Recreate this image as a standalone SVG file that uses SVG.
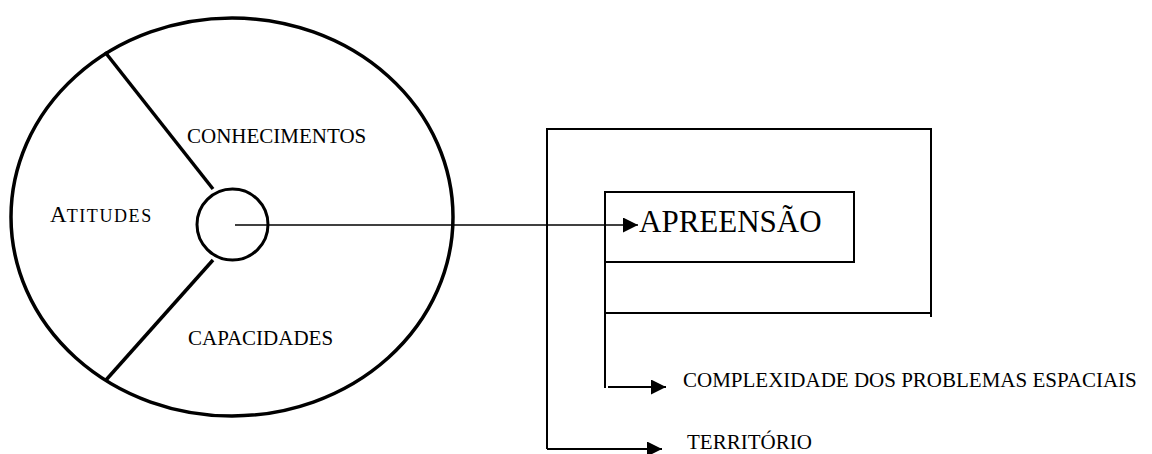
<svg xmlns="http://www.w3.org/2000/svg" width="1152" height="454" viewBox="0 0 1152 454">
  <style>
    .bg { fill: #ffffff; }
    .thick { fill: none; stroke: #000; stroke-width: 3.5; }
    .frame { fill: none; stroke: #000; stroke-width: 2; }
    .wire { fill: none; stroke: #000; stroke-width: 1.6; }
    .lbl { font-family: "Liberation Serif", "Times New Roman", serif; font-size: 21px; fill: #000; }
    .big { font-family: "Liberation Serif", "Times New Roman", serif; font-size: 31px; fill: #000; }
  </style>
  <defs>
    <marker id="arrow" markerUnits="userSpaceOnUse" markerWidth="15" markerHeight="15" refX="15" refY="7.5" orient="auto">
      <path d="M0,0 L15,7.5 L0,15 Z" fill="#000"/>
    </marker>
  </defs>

  <rect class="bg" x="0" y="0" width="1152" height="454"/>

  <!-- wheel of competences -->
  <g id="wheel">
    <ellipse class="thick" cx="232" cy="217" rx="221" ry="199"/>
    <line class="thick" x1="105" y1="52" x2="213" y2="189"/>
    <line class="thick" x1="213" y1="260" x2="106" y2="380"/>
  </g>

  <g id="conhecimentos">
    <text class="lbl" x="187" y="143">CONHECIMENTOS</text>
  </g>

  <g id="atitudes">
    <text class="lbl" x="50" y="222"><tspan font-size="23">A</tspan><tspan font-size="18" letter-spacing="1.6">TITUDES</tspan></text>
  </g>

  <g id="capacidades">
    <text class="lbl" x="188" y="345">CAPACIDADES</text>
  </g>

  <!-- hub -->
  <g id="hub">
    <circle cx="232.5" cy="224.5" r="35.5" fill="none" stroke="#000" stroke-width="3"/>
  </g>

  <!-- outer frame: territory -->
  <g id="territorio-frame">
    <path class="frame" d="M547,449 L547,129 L931,129 L931,317"/>
    <line class="frame" x1="604" y1="313" x2="931" y2="313"/>
  </g>

  <!-- inner box: apprehension -->
  <g id="apreensao">
    <rect class="frame" x="605" y="192" width="249" height="70"/>
    <text class="big" x="639" y="232">APREENSÃO</text>
  </g>

  <g id="complexidade">
    <line class="frame" x1="605" y1="262" x2="605" y2="388"/>
    <text class="lbl" x="683" y="387">COMPLEXIDADE DOS PROBLEMAS ESPACIAIS</text>
  </g>

  <g id="territorio">
    <text class="lbl" x="687" y="449">TERRITÓRIO</text>
  </g>

  <!-- connectors -->
  <g id="connectors">
    <line class="wire" x1="235" y1="225" x2="638" y2="225" marker-end="url(#arrow)"/>
    <line class="frame" x1="608" y1="387" x2="666" y2="387" marker-end="url(#arrow)"/>
    <line class="frame" x1="547" y1="449" x2="662" y2="449" marker-end="url(#arrow)"/>
  </g>
</svg>
